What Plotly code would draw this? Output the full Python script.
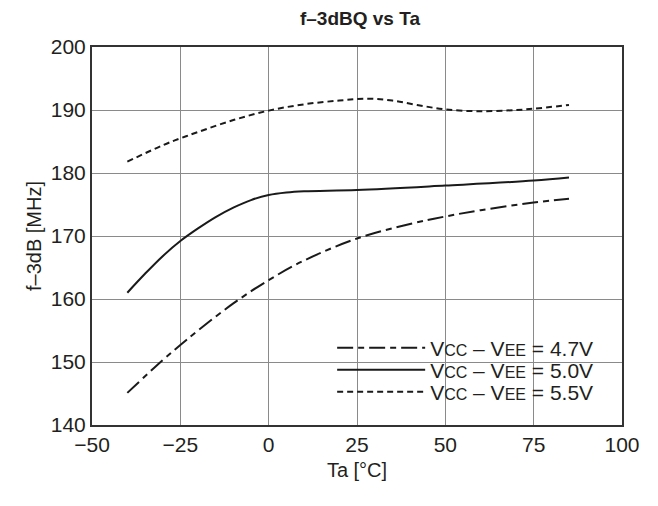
import plotly.graph_objects as go

x_47 = [-40, -30, -25, -20, -10, 0, 10, 25, 40, 50, 60, 75, 85]
y_47 = [145.1, 150.3, 152.7, 155.0, 159.3, 163.0, 166.1, 169.6, 171.9, 173.1, 174.1, 175.3, 175.9]

x_50 = [-40, -35, -30, -25, -20, -15, -10, -5, 0, 5, 10, 25, 50, 75, 85]
y_50 = [161.0, 164.0, 166.8, 169.2, 171.2, 173.0, 174.5, 175.7, 176.5, 176.9, 177.1, 177.3, 178.0, 178.8, 179.3]

x_55 = [-40, -30, -25, -20, -10, 0, 10, 20, 28, 35, 42, 50, 60, 70, 75, 85]
y_55 = [181.8, 184.4, 185.5, 186.5, 188.4, 189.9, 190.9, 191.5, 191.8, 191.5, 190.8, 190.1, 189.8, 190.0, 190.2, 190.8]

SM = "<span style='font-size:16px'>"
names = [
    f"V{SM}CC</span> – V{SM}EE</span> = 4.7V",
    f"V{SM}CC</span> – V{SM}EE</span> = 5.0V",
    f"V{SM}CC</span> – V{SM}EE</span> = 5.5V",
]
x_ticks = [-50, -25, 0, 25, 50, 75, 100]
y_ticks = [140, 150, 160, 170, 180, 190, 200]

FONT = "Liberation Sans, Arial, sans-serif"
INK = "#231f20"

fig = go.Figure()
fig.add_trace(go.Scatter(x=x_47, y=y_47, mode="lines", name=names[0], legend="legend",
                         line=dict(color="#1a1a1a", width=2, dash="16px,5px,6px,5px", shape="spline")))
fig.add_trace(go.Scatter(x=x_50, y=y_50, mode="lines", name=names[1], legend="legend2",
                         line=dict(color="#1a1a1a", width=2, shape="spline")))
fig.add_trace(go.Scatter(x=x_55, y=y_55, mode="lines", name=names[2], legend="legend3",
                         line=dict(color="#1a1a1a", width=2, dash="6px,4px", shape="spline")))

leg_common = dict(x=0.955, xanchor="right", yanchor="middle",
                  bgcolor="rgba(0,0,0,0)", borderwidth=0,
                  font=dict(size=21, family=FONT, color=INK), itemwidth=88)

fig.update_layout(
    width=650, height=498,
    margin=dict(l=84, r=36, t=39, b=81),
    paper_bgcolor="white", plot_bgcolor="white",
    font=dict(family=FONT, color=INK, size=21),
    title=dict(text="<b>f–3dBQ vs Ta</b>", x=0.5415, xanchor="center",
               y=1, yref="container", yanchor="top", pad=dict(t=4),
               font=dict(size=19, family=FONT, color=INK)),
    showlegend=True,
    legend=dict(y=0.2037, **leg_common),
    legend2=dict(y=0.1455, **leg_common),
    legend3=dict(y=0.0873, **leg_common),
    shapes=[dict(type="rect", xref="paper", yref="paper", x0=0.432, x1=0.998, y0=0.047, y1=0.238,
                 fillcolor="white", line=dict(width=0), layer="between")],
    xaxis=dict(range=[-50, 100], tickvals=x_ticks, showgrid=True, gridcolor="#8a8a8a", gridwidth=1,
               showline=True, linecolor="#333333", linewidth=2, mirror=True, zeroline=False,
               ticks="", ticklen=0, tickfont=dict(size=21),
               title=dict(text="Ta [°C]", font=dict(size=20), standoff=8)),
    yaxis=dict(range=[140, 200], tickvals=y_ticks, showgrid=True, gridcolor="#8a8a8a", gridwidth=1,
               showline=True, linecolor="#333333", linewidth=2, mirror=True, zeroline=False,
               ticks="", tickfont=dict(size=21),
               title=dict(text="f–3dB [MHz]", font=dict(size=20), standoff=4)),
)

fig.write_html("out.html")
